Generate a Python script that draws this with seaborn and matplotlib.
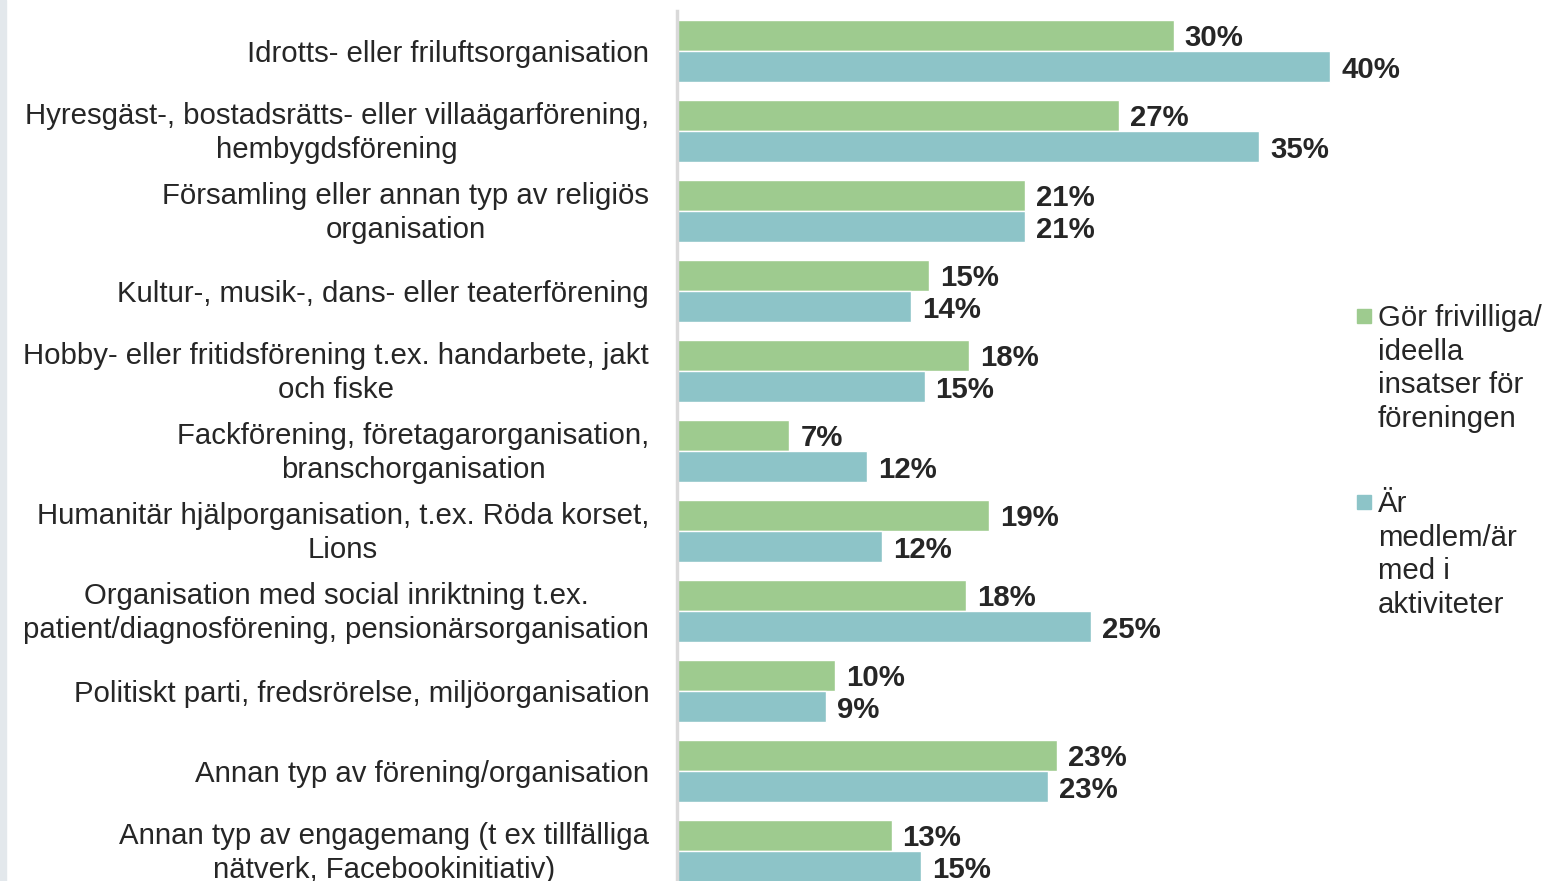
import numpy as np
import pandas as pd
import matplotlib.pyplot as plt
import matplotlib.patches as mpatches
import matplotlib.transforms as mtransforms
import seaborn as sns

# categories (top to bottom)
categories = [
    "Idrotts- eller friluftsorganisation",
    "Hyresgäst-, bostadsrätts- eller villaägarförening,\nhembygdsförening",
    "Församling eller annan typ av religiös\norganisation",
    "Kultur-, musik-, dans- eller teaterförening",
    "Hobby- eller fritidsförening t.ex. handarbete, jakt\noch fiske",
    "Fackförening, företagarorganisation,\nbranschorganisation",
    "Humanitär hjälporganisation, t.ex. Röda korset,\nLions",
    "Organisation med social inriktning t.ex.\npatient/diagnosförening, pensionärsorganisation",
    "Politiskt parti, fredsrörelse, miljöorganisation",
    "Annan typ av förening/organisation",
    "Annan typ av engagemang (t ex tillfälliga\nnätverk, Facebookinitiativ)",
]

series_names = [
    "Gör frivilliga/\nideella\ninsatser för\nföreningen",
    "Är\nmedlem/är\nmed i\naktiviteter",
]

# bar lengths (percent)
volunteer = [30.1, 26.8, 21.1, 15.3, 17.7, 6.8, 18.9, 17.5, 9.6, 23.0, 13.0]
member = [39.6, 35.3, 21.1, 14.2, 15.0, 11.5, 12.4, 25.1, 9.0, 22.5, 14.8]

# printed labels
volunteer_labels = ["30%", "27%", "21%", "15%", "18%", "7%", "19%", "18%", "10%", "23%", "13%"]
member_labels = ["40%", "35%", "21%", "14%", "15%", "12%", "12%", "25%", "9%", "23%", "15%"]

colors = ["#9ecb8f", "#8dc4c8"]
text_color = "#262626"
fs = 21.2
ls = 1.26

df = pd.DataFrame({
    "category": categories * 2,
    "value": volunteer + member,
    "series": [series_names[0]] * len(categories) + [series_names[1]] * len(categories),
})

sns.set_style("white")
plt.rcParams["font.family"] = ["Liberation Sans", "DejaVu Sans"]

fig = plt.figure(figsize=(15.48, 8.81), dpi=100)
ax = fig.add_axes([677 / 1548, 1 - 891 / 881, (1370 - 677) / 1548, 880 / 881])

sns.barplot(data=df, y="category", x="value", hue="series", orient="h",
            palette=colors, width=0.78, ax=ax, legend=False, saturation=1)

for cont, labs in zip(ax.containers, [volunteer_labels, member_labels]):
    anns = ax.bar_label(cont, labels=labs, padding=8, fontsize=fs, fontweight="bold",
                        color=text_color, clip_on=False)
    for a in anns:
        a.xyann = (8, -2.2)

ax.set_xlim(0, 42)
ax.set_ylim(len(categories) - 0.5, -0.5)
ax.set_xlabel("")
ax.set_ylabel("")
ax.set_xticks([])
ax.tick_params(axis="y", length=0, pad=20, labelsize=fs, labelcolor=text_color)

# two-line labels sit a bit high in the original
lift = mtransforms.ScaledTranslation(0, 4 / 100, fig.dpi_scale_trans)
for t in ax.get_yticklabels():
    t.set_linespacing(ls)
    t.set_multialignment("center")
    if "\n" in t.get_text():
        t.set_transform(t.get_transform() + lift)

for s in ["top", "right", "bottom"]:
    ax.spines[s].set_visible(False)
ax.spines["left"].set_color("#d9d9d9")
ax.spines["left"].set_linewidth(2.5)

# gray strip at the left edge
fig.patches.append(mpatches.Rectangle((0, 0), 6 / 1548, 1, transform=fig.transFigure,
                                      color="#e3e8ec", zorder=0))

# legend, squares next to the first line of each entry
# (square centre y, baseline y of last text line) in pixels from the top
legend_pos = [(316, 427), (502, 613)]
for name, col, (ymid, ybase) in zip(series_names, colors, legend_pos):
    fig.patches.append(mpatches.Rectangle((1357 / 1548, 1 - (ymid + 7) / 881), 14 / 1548, 14 / 881,
                                          transform=fig.transFigure, color=col))
    fig.text(1378 / 1548, 1 - ybase / 881, name, fontsize=fs, color=text_color,
             va="baseline", ha="left", linespacing=ls)

fig.savefig("out.png", dpi=100)
